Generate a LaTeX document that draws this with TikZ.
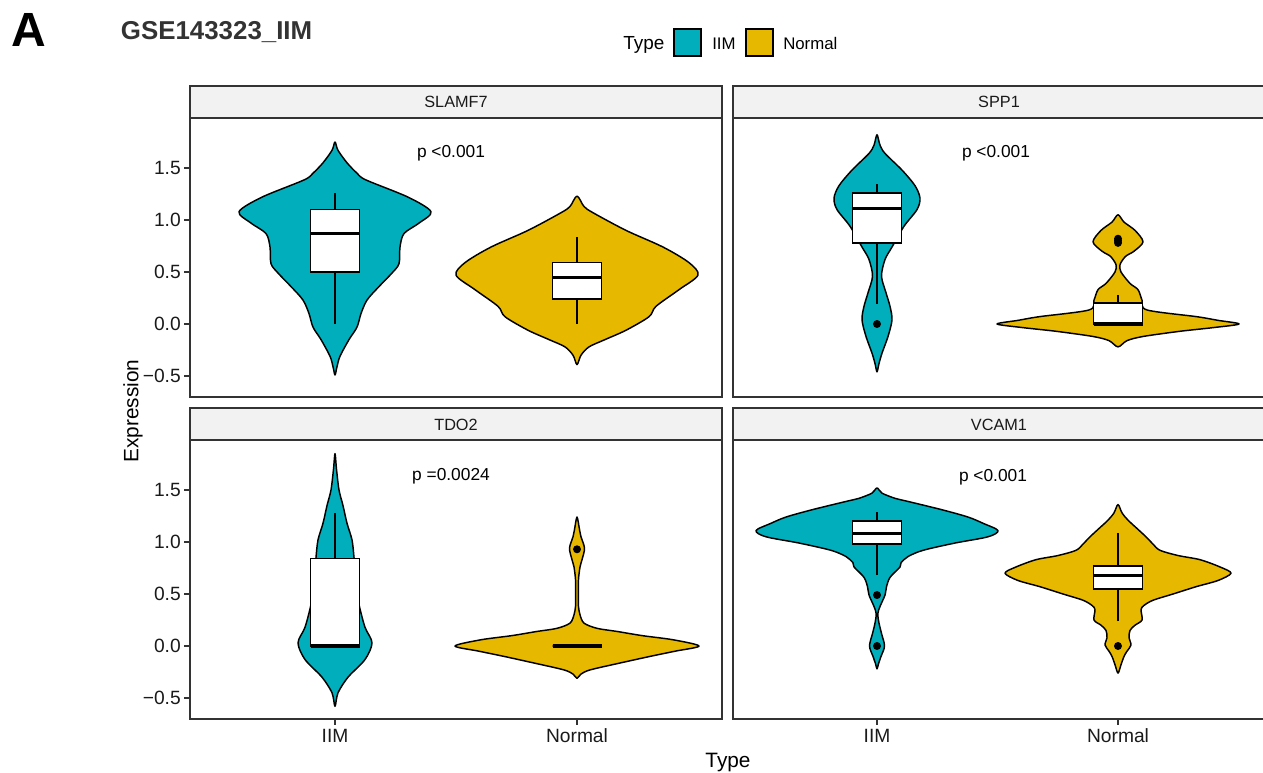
\documentclass[tikz,border=0pt]{standalone}
\usepackage{fontspec}
\setmainfont{Liberation Sans}
\definecolor{iimc}{HTML}{00AFBB}
\definecolor{normc}{HTML}{E7B800}
\definecolor{stripc}{HTML}{F2F2F2}
\definecolor{framec}{HTML}{333333}
\definecolor{txtc}{HTML}{1A1A1A}
\tikzset{
 violinst/.style={draw=black, line width=1.1pt, line join=round},
 whisk/.style={draw=black, line width=1.1pt},
 boxst/.style={draw=black, fill=white, line width=1.1pt},
 medst/.style={draw=black, line width=2.4pt},
 framest/.style={draw=framec, line width=1.1pt},
 stripst/.style={draw=framec, fill=stripc, line width=0.9pt},
 tickst/.style={draw=framec, line width=1.1pt},
 ticklab/.style={font=\fontsize{14.4}{17}\selectfont, text=txtc, inner sep=0pt},
 striplab/.style={font=\fontsize{12.2}{14}\selectfont, text=txtc, inner sep=0pt, anchor=base},
 plab/.style={font=\fontsize{13}{15}\selectfont, text=black, inner sep=0pt, anchor=base},
 axtitle/.style={font=\fontsize{15.6}{18}\selectfont, text=black, inner sep=0pt},
 legtitle/.style={font=\fontsize{14.2}{17}\selectfont, text=black, inner sep=0pt, anchor=base west},
 leglab/.style={font=\fontsize{12.6}{15}\selectfont, text=black, inner sep=0pt, anchor=base west},
 legkey/.style={draw=black, line width=1.2pt},
}
\newcommand\violin[6]{%
  \gdef\vR{}\gdef\vL{}%
  \foreach \vv/\ww in {#5}{\xdef\vR{\vR (\ww,\vv)}\xdef\vL{(-\ww,\vv) \vL}}%
  \begin{scope}[shift={(#1,#2)},yscale=-104]
  \edef\tmpviolin{\noexpand\draw[violinst,fill=#6] plot[smooth cycle,tension=0.5] coordinates {(0,#3) \vR\space (0,#4) \vL};}%
  \tmpviolin
  \end{scope}}
\newcommand\bxplot[7]{%
  \begin{scope}[shift={(#1,#2)},yscale=-104]
  \draw[whisk] (0,#3) -- (0,#7);
  \draw[boxst] (-24.5,#4) rectangle (24.5,#6);
  \draw[medst] (-24.5,#5) -- (24.5,#5);
  \end{scope}}
\newcommand\outl[3]{\fill[black] (#1,{#2-104*#3}) circle[radius=4];}
\begin{document}
\begin{tikzpicture}[x=0.75pt,y=-0.75pt]
\useasboundingbox (0,0) rectangle (1263,773);
\clip (0,0) rectangle (1263,773);

% ---------- violins ----------
% SLAMF7
\violin{335}{324}{1.75}{-0.49}{1.67/3, 1.55/12, 1.45/22, 1.385/31, 1.22/73, 1.08/96, 0.97/84, 0.87/69, 0.74/65, 0.58/64, 0.49/57, 0.36/44, 0.23/32, 0.1/26, -0.03/22, -0.15/14, -0.31/5, -0.41/2}{iimc}
\violin{577}{324}{1.23}{-0.39}{1.13/7, 1.07/16, 0.9/49, 0.74/86, 0.59/112, 0.47/121, 0.33/102, 0.17/79, 0.07/72, -0.06/49, -0.15/28, -0.22/12, -0.3/4}{normc}
% SPP1
\violin{877}{324}{1.82}{-0.46}{1.72/3, 1.64/8, 1.48/25, 1.33/38, 1.21/43, 1.1/40, 0.94/27, 0.74/15, 0.62/8, 0.46/4.5, 0.3/9, 0.17/13, 0.04/15, -0.12/11, -0.28/5, -0.38/2}{iimc}
\violin{1118}{324}{1.05}{-0.22}{0.98/6, 0.9/17, 0.79/25, 0.7/16, 0.65/7.5, 0.57/2, 0.5/3, 0.39/12, 0.33/20, 0.23/24, 0.135/29, 0.07/79, 0.035/100, 0.0/121, -0.035/95, -0.07/62, -0.12/25, -0.16/9}{normc}
% TDO2
\violin{335}{646}{1.85}{-0.58}{1.7/1.5, 1.5/4, 1.35/8, 1.18/12, 1.02/17, 0.85/19, 0.6/21, 0.4/24, 0.18/30, 0.03/37, -0.13/30, -0.3/13, -0.45/3}{iimc}
\violin{577}{646}{1.24}{-0.31}{1.12/2.5, 1.05/4, 0.94/7.5, 0.83/5, 0.76/3, 0.64/1.5, 0.5/1.3, 0.38/1.5, 0.3/3, 0.22/7, 0.17/20, 0.14/40, 0.1/65, 0.06/96, 0.0/122, -0.05/98, -0.1/73, -0.17/40, -0.23/13, -0.27/4}{normc}
% VCAM1
\violin{877}{646}{1.52}{-0.22}{1.47/5, 1.42/18, 1.39/31, 1.31/65, 1.24/91, 1.18/106, 1.11/121, 1.05/111, 0.99/78, 0.92/46, 0.86/31, 0.8/24, 0.76/23, 0.66/13, 0.57/9.5, 0.49/8, 0.38/3, 0.31/0.8, 0.22/2, 0.12/4.5, 0.0/7.5, -0.1/4, -0.17/1.5}{iimc}
\violin{1118}{646}{1.36}{-0.26}{1.28/4, 1.21/10, 1.13/19, 1.05/28, 0.98/35, 0.92/42, 0.87/60, 0.83/82, 0.76/102, 0.7/113, 0.63/100, 0.57/78, 0.5/55, 0.44/35, 0.39/26, 0.35/23, 0.25/24, 0.2/17, 0.15/12, 0.08/11, 0.01/13, -0.05/9, -0.1/6, -0.18/3}{normc}

% ---------- boxes ----------
\bxplot{335}{324}{0}{0.5}{0.87}{1.1}{1.26}
\bxplot{577}{324}{0}{0.24}{0.45}{0.59}{0.84}
\bxplot{877}{324}{0.19}{0.78}{1.11}{1.26}{1.35}
\outl{877}{324}{0}
\bxplot{1118}{324}{0}{0}{0}{0.2}{0.28}
\outl{1118}{324}{0.78}\outl{1118}{324}{0.80}\outl{1118}{324}{0.82}
\bxplot{335}{646}{0}{0}{0}{0.84}{1.28}
\bxplot{577}{646}{0}{0}{0}{0}{0}
\outl{577}{646}{0.93}
\bxplot{877}{646}{0.68}{0.98}{1.08}{1.2}{1.29}
\outl{877}{646}{0.49}\outl{877}{646}{0}
\bxplot{1118}{646}{0.24}{0.55}{0.68}{0.77}{1.09}
\outl{1118}{646}{0}

% ---------- panels and strips ----------
\draw[framest] (190,118) rectangle (722,397);
\draw[framest] (733,118) rectangle (1266,397);
\draw[framest] (190,440) rectangle (722,719);
\draw[framest] (733,440) rectangle (1266,719);
\draw[stripst] (190,86) rectangle (722,118);
\draw[stripst] (733,86) rectangle (1266,118);
\draw[stripst] (190,408) rectangle (722,440);
\draw[stripst] (733,408) rectangle (1266,440);
\draw[framest] (190,118) -- (722,118) (733,118) -- (1266,118) (190,440) -- (722,440) (733,440) -- (1266,440);

\node[striplab] (s1) at (456,108) {SLAMF7};
\node[striplab] (s2) at (999,108) {SPP1};
\node[striplab] (s3) at (456,430) {TDO2};
\node[striplab] (s4) at (999,430) {VCAM1};

\node[plab] (p1) at (451,158) {p <0.001};
\node[plab] (p2) at (996,158) {p <0.001};
\node[plab] (p3) at (451,480) {p =0.0024};
\node[plab] (p4) at (993,481) {p <0.001};

% ---------- y axes ----------
\foreach \yb/\rw in {324/a, 646/b}{
  \foreach \val/\lab/\k in {-0.5/{−0.5}/1, 0/{0.0}/2, 0.5/{0.5}/3, 1/{1.0}/4, 1.5/{1.5}/5}{
    \draw[tickst] (184,{\yb-104*\val}) -- (190,{\yb-104*\val});
    \node[ticklab, anchor=east] (yt\rw\k) at (181,{\yb-104*\val}) {\lab};
  }
}
% ---------- x axes ----------
\foreach \xx/\lab/\k in {335/IIM/1, 577/Normal/2, 877/IIM/3, 1118/Normal/4}{
  \draw[tickst] (\xx,719) -- (\xx,725);
  \node[ticklab, anchor=base] (xt\k) at (\xx,742) {\lab};
}

\node[axtitle, anchor=base] (xtitle) at (728,767) {Type};
\node[axtitle, rotate=90] (ytitle) at (133,411) {Expression};

% ---------- titles ----------
\node[inner sep=0pt, anchor=base west, font=\fontsize{36}{40}\selectfont\bfseries] (lettA) at (11,46.7) {A};
\node[inner sep=0pt, anchor=base west, text=framec, font=\fontsize{19.4}{24}\selectfont\bfseries] (gtitle) at (120.7,39.3) {GSE143323\_IIM};

% ---------- legend ----------
\node[legtitle] (legT) at (623,49.3) {Type};
\draw[legkey, fill=iimc] (674,29) rectangle (701,56);
\node[leglab] (legI) at (712,49.3) {IIM};
\draw[legkey, fill=normc] (746,29) rectangle (773,56);
\node[leglab] (legN) at (783,49.3) {Normal};
\end{tikzpicture}
\end{document}
